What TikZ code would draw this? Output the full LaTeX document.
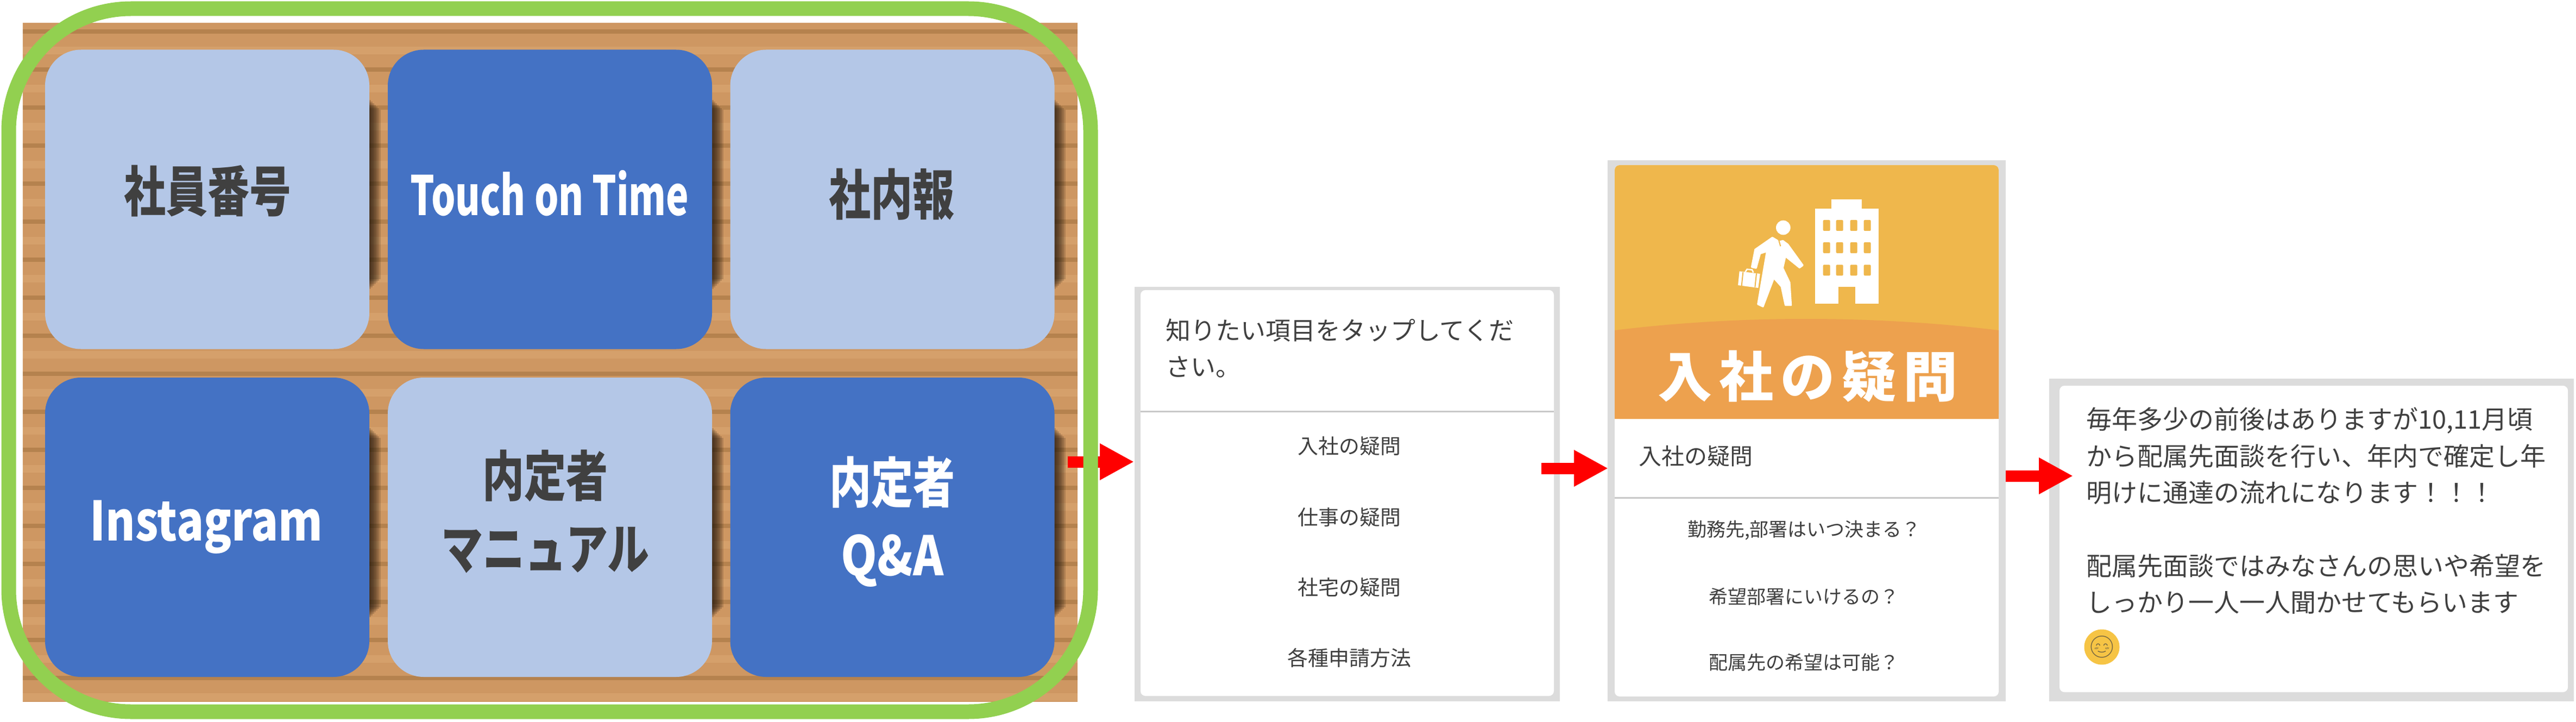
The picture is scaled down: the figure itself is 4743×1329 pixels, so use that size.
\documentclass[tikz,border=0pt]{standalone}
\usepackage{fontspec}
\setmainfont{Noto Sans CJK JP}
\newfontfamily\emojifont{Noto Emoji}
\usetikzlibrary{arrows.meta}

\definecolor{woodbase}{HTML}{CE9762}
\definecolor{woodlight}{HTML}{D5A06B}
\definecolor{wooddark}{HTML}{B5824E}
\definecolor{cardlight}{HTML}{B4C7E7}
\definecolor{carddark}{HTML}{4472C4}
\definecolor{leaf}{HTML}{92D050}
\definecolor{framegrey}{HTML}{DCDCDC}
\definecolor{ruleline}{HTML}{C8C8C8}
\definecolor{inktext}{HTML}{404040}
\definecolor{sunup}{HTML}{EFB74C}
\definecolor{sunlow}{HTML}{EDA14E}
\definecolor{smiley}{HTML}{F6C445}

\newcommand{\tightw}[2]{\scalebox{#1}[1]{#2}}

\tikzset{
  lightcard/.style={fill=cardlight,rounded corners=66pt,minimum width=597pt,minimum height=551pt,inner sep=0pt},
  darkcard/.style={fill=carddark,rounded corners=66pt,minimum width=597pt,minimum height=551pt,inner sep=0pt},
  cardlabel/.style={text=inktext,font=\bfseries\fontsize{100}{134}\selectfont,align=center,inner sep=0pt},
  whitelabel/.style={cardlabel,text=white},
  frame/.style={fill=framegrey,inner sep=0pt},
  paper/.style={fill=white,rounded corners=9pt,inner sep=0pt},
  rowtext/.style={text=inktext,font=\fontsize{38}{46}\selectfont,inner sep=0pt},
  redarrow/.style={red,line width=21pt,-{Triangle[length=63pt,width=63pt]}},
  divider/.style={ruleline,line width=3pt}
}

\begin{document}
\begin{tikzpicture}[x=1pt,y=-1pt]
  \useasboundingbox (0,0) rectangle (4743,1329);

  % wood board
  \fill[woodbase] (42,42) rectangle (1984,1292);
  \foreach \n in {0,...,17} {
    \fill[woodlight] (42,{93+70*\n-7}) rectangle (1984,{93+70*\n+7});
    \fill[wooddark] (42,{58+70*\n-4}) rectangle (1984,{58+70*\n+4});
  }

  % six cards with their shadows
  \foreach \id/\cx/\cy/\kind in {1/381.5/367/lightcard,2/1012.5/367/darkcard,3/1643/367/lightcard,
                                 4/381.5/970.5/darkcard,5/1012.5/970.5/lightcard,6/1643/970.5/darkcard} {
    \foreach \w in {3,6,9,12,15,18,21}
      \fill[black!85!brown,opacity=.17] ({\cx+290},{\cy-186+\w}) rectangle ({\cx+298+\w},{\cy+168-\w});
    \node[\kind] (card\id) at (\cx,\cy) {};
  }
  \node[cardlabel] (label1) at (382,352) {\tightw{.77}{社員番号}};
  \node[whitelabel] (label2) at (1012,356) {\tightw{.70}{Touch on Time}};
  \node[cardlabel] (label3) at (1642,358) {\tightw{.77}{社内報}};
  \node[whitelabel] (label4) at (380,970) {\tightw{.83}{Instagram}};
  \node[cardlabel] (label5) at (1004,942) {\tightw{.77}{内定者}\\\tightw{.77}{マニュアル}};
  \node[whitelabel] (label6) at (1643,960) {\tightw{.77}{内定者}\\\tightw{.85}{Q\&A}};

  % first arrow runs under the green outline
  \coordinate (tipA) at (2088,850);
  \coordinate (tailA) at (1966,850);
  \draw[redarrow] (tailA) -- (tipA);
  \draw[leaf,line width=27pt,rounded corners=225pt] (16,16) rectangle (2008,1310);

  % question list
  \node[frame,minimum width=783pt,minimum height=763pt] (frameA) at (2480.5,909.5) {};
  \node[paper,minimum width=761pt,minimum height=747pt] (paperA) at (2480.5,907.5) {};
  \draw[divider] (paperA.west |- 0,757) -- (paperA.east |- 0,757);
  \node[text=inktext,font=\fontsize{46}{67}\selectfont,align=left,anchor=west,inner sep=0pt] (askA) at (2146,641) {知りたい項目をタップしてくだ\\さい。};
  \node[rowtext] (rowA1) at (2484,821) {入社の疑問};
  \node[rowtext] (rowA2) at (2484,952) {仕事の疑問};
  \node[rowtext] (rowA3) at (2484,1081) {社宅の疑問};
  \node[rowtext] (rowA4) at (2484,1211) {各種申請方法};

  % joining the company
  \node[frame,minimum width=733pt,minimum height=996pt] (frameB) at (3326.5,793) {};
  \node[paper,minimum width=707pt,minimum height=978pt] (paperB) at (3326.5,793) {};
  \fill[sunup,rounded corners=9pt] (2973,771) |- (3680,304) -- (3680,771) -- cycle;
  \fill[sunlow] (2973,771) -- (2973,608) .. controls (3200,580) and (3450,580) .. (3680,608) -- (3680,771) -- cycle;
  \node[text=white,font=\bfseries\fontsize{100}{100}\selectfont\addfontfeature{LetterSpace=13},inner sep=0pt] (bannerB) at (3328,693) {入社の疑問};

  % walking man and office block
  \begin{scope}[shift={(3150,330)},x=.3333pt,y=-.3333pt]
    \fill[white] (400,267) circle (40);
    \filldraw[white,line width=3pt,line join=round] (340,322) -- (245,388) -- (226,485) -- (250,490) -- (272,410) -- (310,398)
      -- (260,690) -- (288,703) -- (348,545) -- (390,592) -- (412,695) -- (443,695) -- (435,570) -- (397,490)
      -- (412,425) -- (490,488) -- (508,475) -- (425,360) -- (398,340) -- (378,345) -- cycle;
    \draw[sunup,line width=2pt] (375,335) -- (385,370);
    \fill[white] (158,508) -- (272,522) -- (262,600) -- (150,585) -- cycle;
    \draw[white,line width=2.5pt] (190,512) -- (200,497) -- (228,500) -- (235,515);
    \draw[sunup,line width=2pt] (178,512) -- (170,588) (252,520) -- (244,596);
    \fill[white] (575,162) rectangle (928,688);
    \fill[white] (665,110) rectangle (835,162);
    \foreach \wx in {620,692,770,845}
      \foreach \wy in {225,348,472}
        \fill[sunup,rounded corners=2pt] (\wx,\wy) rectangle (\wx+39,\wy+60);
    \fill[sunup] (705,595) rectangle (798,688);
  \end{scope}

  \draw[divider] (paperB.west |- 0,916) -- (paperB.east |- 0,916);
  \node[text=inktext,font=\fontsize{42}{50}\selectfont,anchor=west,inner sep=0pt] (rowB0) at (3017,840) {入社の疑問};
  \node[rowtext,font=\fontsize{35}{42}\selectfont] (rowB1) at (3322,976) {勤務先,部署はいつ決まる？};
  \node[rowtext,font=\fontsize{35}{42}\selectfont] (rowB2) at (3321,1098) {希望部署にいけるの？};
  \node[rowtext,font=\fontsize{35}{42}\selectfont] (rowB3) at (3321,1219) {配属先の希望は可能？};

  % answer
  \node[frame,minimum width=966pt,minimum height=594pt] (frameC) at (4256,994) {};
  \node[paper,minimum width=936pt,minimum height=564pt] (paperC) at (4260,992) {};
  \node[text=inktext,font=\fontsize{47}{67.3}\selectfont,align=left,anchor=north west,inner sep=0pt] (answerC) at (3841,750) {毎年多少の前後はありますが10,11月頃\\から配属先面談を行い、年内で確定し年\\明けに通達の流れになります！！！\\[67.3pt]配属先面談ではみなさんの思いや希望を\\しっかり一人一人聞かせてもらいます};
  \node[circle,fill=smiley,minimum size=50pt,inner sep=0pt,text=inktext!70!smiley,font=\emojifont\fontsize{40}{40}\selectfont] (smileC) at (3870,1191) {😊};

  % arrows between the panels
  \coordinate (tailB) at (2838,862);
  \coordinate (tipB) at (2961,862);
  \draw[redarrow] (tailB) -- (tipB);
  \coordinate (tailC) at (3693,876);
  \coordinate (tipC) at (3817,876);
  \draw[redarrow] (tailC) -- (tipC);
\end{tikzpicture}
\end{document}
